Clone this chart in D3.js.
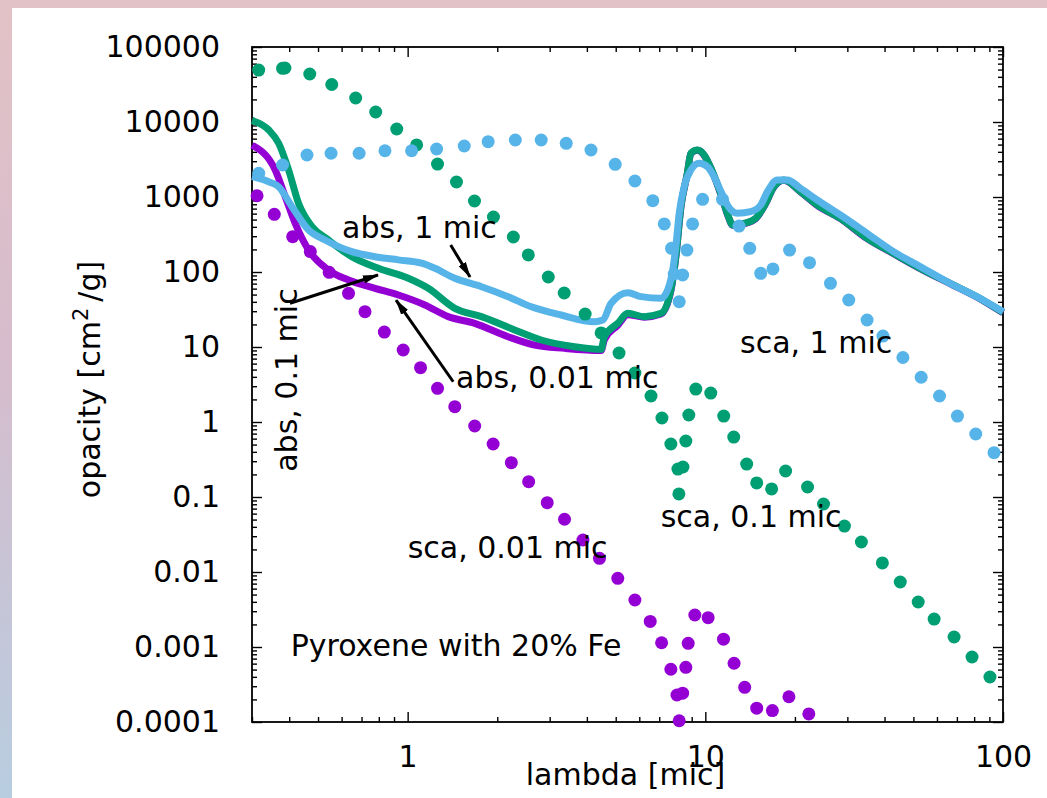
<!DOCTYPE html>
<html>
<head>
<meta charset="utf-8">
<script src="https://cdn.jsdelivr.net/npm/d3@7"></script>
<style>
  html, body { margin: 0; padding: 0; overflow: hidden; }
  svg { display: block; font-family: "DejaVu Sans", sans-serif; }
</style>
</head>
<body>
<svg id="chart" width="1047" height="798"></svg>
<script>
// Absorption opacity [cm^2/g] versus wavelength [micron], pairs of [lambda, kappa]
const absSmall = [
  [0.30, 4900], [0.359, 2290], [0.388, 1010], [0.419, 446], [0.465, 196], [0.542, 106],
  [0.633, 78], [0.777, 60.6], [0.931, 49.3], [1.143, 36.3], [1.369, 25.4], [1.68, 20.7],
  [2.175, 13.7], [2.67, 10.6], [3.365, 9.6], [4.467, 9.0], [4.58, 12.5], [5.08, 19.5],
  [5.49, 27], [6.24, 25], [7.10, 27.5], [7.66, 56], [7.96, 158], [8.28, 735], [8.70, 2050],
  [8.94, 3800], [9.42, 4200], [9.91, 3600], [10.51, 2270], [11.36, 1000], [11.96, 540],
  [12.34, 420], [13.49, 440], [14.76, 515], [15.95, 815], [17.0, 1360], [18.37, 1670],
  [20.89, 1170], [23.76, 775], [28.44, 515], [34.95, 278], [42.9, 175], [52.7, 111],
  [66.4, 70], [81.6, 46.5], [100, 28.5]
];
const absMedium = [
  [0.30, 10500], [0.3415, 7820], [0.3687, 5200], [0.3982, 2290], [0.430, 824], [0.477, 402],
  [0.542, 267], [0.649, 160], [0.798, 112], [1.005, 82.4], [1.173, 60.6], [1.44, 32.8],
  [1.77, 25.4], [2.288, 16.9], [2.81, 12.4], [3.635, 10.1], [4.467, 9.3], [4.58, 13.7],
  [5.08, 20.7], [5.49, 28.1], [6.24, 25.4], [7.10, 28.1], [7.66, 57.5], [7.96, 160],
  [8.28, 743], [8.70, 2070], [8.94, 3830], [9.42, 4230], [9.91, 3630], [10.51, 2290],
  [11.36, 1010], [11.96, 546], [12.34, 424], [13.49, 446], [14.76, 520], [15.95, 824],
  [17.0, 1370], [18.37, 1690], [20.89, 1180], [23.76, 782], [28.44, 520], [34.95, 281],
  [42.9, 177], [52.7, 112], [66.4, 70.6], [81.6, 46.9], [100, 28.8]
];
const absLarge = [
  [0.30, 1866], [0.3415, 1600], [0.3687, 1370], [0.4087, 743], [0.465, 363], [0.528, 267],
  [0.649, 187], [0.777, 160], [0.931, 145], [1.114, 131], [1.235, 112], [1.44, 82.4],
  [1.77, 63.7], [2.175, 46.9], [2.603, 34.4], [3.281, 26.7], [4.242, 21.7], [4.525, 22.9],
  [4.825, 38.3], [5.49, 53], [6.08, 46.9], [7.10, 44.6], [7.47, 57.5], [7.77, 106],
  [7.96, 217], [8.17, 607], [8.49, 1370], [8.94, 2290], [9.53, 2810], [10.17, 2535],
  [10.70, 1866], [11.36, 1120], [11.96, 743], [12.82, 607], [14.2, 637], [15.35, 782],
  [16.16, 1178], [17.45, 1690], [18.86, 1690], [20.89, 1306], [23.76, 912], [28.44, 575],
  [34.95, 328], [42.9, 187], [52.7, 118], [66.4, 70.6], [81.6, 46.9], [100, 29.6]
];

// Scattering opacity [cm^2/g], sampled points
const scaSmall = [
  [0.312, 1040], [0.3565, 587], [0.411, 296], [0.471, 187], [0.545, 99.1], [0.633, 52],
  [0.719, 29.6], [0.835, 15.8], [0.966, 9.12], [1.105, 5.30], [1.26, 2.81], [1.44, 1.6],
  [1.68, 0.885], [1.937, 0.509], [2.23, 0.287], [2.55, 0.16], [2.944, 0.084], [3.365, 0.0505],
  [3.88, 0.0267], [4.41, 0.0152], [5.08, 0.00824], [5.80, 0.00423], [6.53, 0.00219],
  [7.13, 0.00114], [7.66, 0.000505], [8.03, 0.000229], [8.17, 0.000104], [8.39, 0.000242],
  [8.60, 0.000536], [8.76, 0.00112], [9.22, 0.00267], [10.22, 0.00246], [11.51, 0.00127],
  [12.49, 0.000607], [13.56, 0.00029], [14.88, 0.000153], [16.80, 0.000142],
  [19.09, 0.000217], [22.27, 0.000128]
];
const scaMedium = [
  [0.316, 49300], [0.380, 52000], [0.387, 52500], [0.469, 43650], [0.556, 31600],
  [0.669, 20900], [0.781, 13600], [0.919, 8070], [1.072, 4940], [1.26, 2750], [1.459, 1585],
  [1.677, 885], [1.942, 541], [2.265, 293], [2.543, 169], [2.968, 85.8], [3.357, 52.5],
  [3.947, 27.5], [4.467, 15.4], [5.13, 8.32], [5.80, 4.5], [6.57, 2.22], [7.15, 1.13],
  [7.66, 0.509], [8.09, 0.236], [8.15, 0.11], [8.41, 0.251], [8.60, 0.558], [8.80, 1.24],
  [9.29, 2.75], [10.43, 2.43], [11.53, 1.2], [12.46, 0.63], [13.77, 0.275], [14.88, 0.154],
  [16.70, 0.128], [18.61, 0.222], [22.05, 0.136], [24.95, 0.0807], [29.33, 0.041],
  [33.44, 0.0251], [39.33, 0.0132], [45.17, 0.00736], [51.9, 0.00398], [58.7, 0.00236],
  [68.5, 0.00136], [78.7, 0.000736], [90.4, 0.000398]
];
const scaLarge = [
  [0.316, 2070], [0.380, 2670], [0.459, 3630], [0.553, 3830], [0.687, 3830], [0.839, 4140],
  [1.031, 4140], [1.251, 4365], [1.549, 4790], [1.864, 5460], [2.30, 5750], [2.81, 5750],
  [3.41, 5200], [4.13, 4230], [4.98, 2730], [5.80, 1635], [6.66, 893], [7.28, 437],
  [7.70, 207], [7.86, 94], [8.17, 40.2], [8.39, 91.2], [8.67, 196], [9.06, 437], [9.79, 931],
  [11.42, 931], [12.98, 410], [14.10, 207], [15.35, 96.1], [16.87, 110], [19.19, 196],
  [22.39, 133], [26.33, 70.6], [30.33, 42.3], [34.95, 22.9], [39.5, 14], [46.1, 7.24],
  [53.1, 3.95], [61.2, 2.22], [70.3, 1.2], [81.0, 0.692], [93.3, 0.39]
];

// Axis ticks and labels
const xMajorTicks = [1, 10, 100];
const xTickLabels = ["1", "10", "100"];
const yMajorTicks = [1e-4, 1e-3, 1e-2, 1e-1, 1, 10, 100, 1000, 10000, 100000];
const yTickLabels = ["0.0001", "0.001", "0.01", "0.1", "1", "10", "100", "1000", "10000", "100000"];

// Text labels and arrows, placed in data coordinates
const labels = [
  { text: "abs, 1 mic", at: [0.602, 284] },
  { text: "abs, 0.01 mic", at: [1.454, 2.81] },
  { text: "sca, 1 mic", at: [13.08, 8.32] },
  { text: "sca, 0.1 mic", at: [7.08, 0.0402] },
  { text: "sca, 0.01 mic", at: [1.0, 0.0155] },
  { text: "Pyroxene with 20% Fe", at: [0.4046, 0.000759] }
];
const verticalLabels = [{ text: "abs, 0.1 mic", at: [0.425, 0.217] }];
const arrows = [
  { from: [1.395, 229], to: [1.62, 85.8] },
  { from: [0.4025, 38.3], to: [0.795, 91.2] },
  { from: [1.423, 3.44], to: [0.914, 42.3] }
];

const colors = { small: "#9400d3", medium: "#009e73", large: "#56b4e9" };

const W = 1047, H = 798;
const plot = { left: 252, right: 1003, top: 47, bottom: 722 };
const svg = d3.select("#chart");

// Background: soft gradient frame with a white panel
const defs = svg.append("defs");
const grad = defs.append("linearGradient").attr("id", "bg")
  .attr("x1", 0).attr("y1", 0).attr("x2", 0).attr("y2", 1);
grad.append("stop").attr("offset", "0%").attr("stop-color", "#e2c2c6");
grad.append("stop").attr("offset", "45%").attr("stop-color", "#d6bccc");
grad.append("stop").attr("offset", "100%").attr("stop-color", "#b8cde0");
svg.append("rect").attr("width", W).attr("height", H).attr("fill", "url(#bg)");
svg.append("rect").attr("x", 12).attr("y", 8).attr("width", W - 12).attr("height", H - 8).attr("fill", "#ffffff");

defs.append("marker").attr("id", "head")
  .attr("viewBox", "0 0 16 10").attr("refX", 15).attr("refY", 5)
  .attr("markerUnits", "userSpaceOnUse").attr("markerWidth", 16).attr("markerHeight", 10)
  .attr("orient", "auto")
  .append("path").attr("d", "M0,0.8 L16,5 L0,9.2 Z").attr("fill", "#000");

const x = d3.scaleLog().domain([0.3, 100]).range([plot.left, plot.right]);
const y = d3.scaleLog().domain([1e-4, 1e5]).range([plot.bottom, plot.top]);

const minorOf = (lo, hi) => {
  const out = [];
  for (let e = Math.floor(Math.log10(lo)); e <= Math.ceil(Math.log10(hi)); e++) {
    for (let m = 2; m <= 9; m++) {
      const v = m * Math.pow(10, e);
      if (v >= lo * 0.999 && v <= hi * 1.001) out.push(v);
    }
  }
  return out;
};
const xMinor = minorOf(0.3, 100);
const yMinor = minorOf(1e-4, 1e5);

const axisStyle = g => {
  g.select(".domain").remove();
  g.selectAll("line").attr("stroke", "#000").attr("stroke-width", 1.4);
  g.selectAll("text").attr("fill", "#000").attr("font-size", 30)
    .attr("font-family", "DejaVu Sans, sans-serif");
};

// Major and minor ticks on all four sides, pointing inward
const fmtX = d => xTickLabels[xMajorTicks.indexOf(d)];
const fmtY = d => yTickLabels[yMajorTicks.findIndex(v => Math.abs(v - d) / v < 1e-6)];

svg.append("g").attr("transform", `translate(0,${plot.bottom})`)
  .call(d3.axisBottom(x).tickValues(xMajorTicks).tickFormat(fmtX).tickSizeInner(-10).tickSizeOuter(0).tickPadding(24))
  .call(axisStyle);
svg.append("g").attr("transform", `translate(0,${plot.bottom})`)
  .call(d3.axisBottom(x).tickValues(xMinor).tickFormat("").tickSizeInner(-5).tickSizeOuter(0))
  .call(axisStyle);
svg.append("g").attr("transform", `translate(0,${plot.top})`)
  .call(d3.axisTop(x).tickValues(xMajorTicks).tickFormat("").tickSizeInner(-10).tickSizeOuter(0))
  .call(axisStyle);
svg.append("g").attr("transform", `translate(0,${plot.top})`)
  .call(d3.axisTop(x).tickValues(xMinor).tickFormat("").tickSizeInner(-5).tickSizeOuter(0))
  .call(axisStyle);

svg.append("g").attr("transform", `translate(${plot.left},0)`)
  .call(d3.axisLeft(y).tickValues(yMajorTicks).tickFormat(fmtY).tickSizeInner(-10).tickSizeOuter(0).tickPadding(32))
  .call(axisStyle);
svg.append("g").attr("transform", `translate(${plot.left},0)`)
  .call(d3.axisLeft(y).tickValues(yMinor).tickFormat("").tickSizeInner(-5).tickSizeOuter(0))
  .call(axisStyle);
svg.append("g").attr("transform", `translate(${plot.right},0)`)
  .call(d3.axisRight(y).tickValues(yMajorTicks).tickFormat("").tickSizeInner(-10).tickSizeOuter(0))
  .call(axisStyle);
svg.append("g").attr("transform", `translate(${plot.right},0)`)
  .call(d3.axisRight(y).tickValues(yMinor).tickFormat("").tickSizeInner(-5).tickSizeOuter(0))
  .call(axisStyle);

svg.append("rect")
  .attr("x", plot.left).attr("y", plot.top)
  .attr("width", plot.right - plot.left).attr("height", plot.bottom - plot.top)
  .attr("fill", "none").attr("stroke", "#000").attr("stroke-width", 1.8);

// Absorption curves
const line = d3.line().x(d => x(d[0])).y(d => y(d[1])).curve(d3.curveMonotoneX);
[[absSmall, colors.small], [absMedium, colors.medium], [absLarge, colors.large]].forEach(([data, c]) => {
  svg.append("path").datum(data).attr("d", line)
    .attr("fill", "none").attr("stroke", c).attr("stroke-width", 7)
    .attr("stroke-linejoin", "round");
});

// Scattering points
[[scaSmall, colors.small], [scaMedium, colors.medium], [scaLarge, colors.large]].forEach(([data, c]) => {
  svg.append("g").selectAll("circle").data(data).join("circle")
    .attr("cx", d => x(d[0])).attr("cy", d => y(d[1])).attr("r", 6.5)
    .attr("fill", c);
});

// Annotations
svg.append("g").selectAll("line").data(arrows).join("line")
  .attr("x1", d => x(d.from[0])).attr("y1", d => y(d.from[1]))
  .attr("x2", d => x(d.to[0])).attr("y2", d => y(d.to[1]))
  .attr("stroke", "#000").attr("stroke-width", 3).attr("marker-end", "url(#head)");

svg.append("g").selectAll("text").data(labels).join("text")
  .attr("x", d => x(d.at[0])).attr("y", d => y(d.at[1]))
  .attr("font-size", 30).attr("fill", "#000").text(d => d.text);

svg.append("g").selectAll("text").data(verticalLabels).join("text")
  .attr("transform", d => `translate(${x(d.at[0])},${y(d.at[1])}) rotate(-90)`)
  .attr("font-size", 30).attr("fill", "#000").text(d => d.text);

// Axis titles
svg.append("text")
  .attr("x", (plot.left + plot.right) / 2 - 2).attr("y", 785)
  .attr("text-anchor", "middle").attr("font-size", 30).attr("fill", "#000")
  .text("lambda [mic]");

const yTitle = svg.append("text")
  .attr("transform", `translate(100,${(plot.top + plot.bottom) / 2 - 5}) rotate(-90)`)
  .attr("text-anchor", "middle").attr("font-size", 30).attr("fill", "#000");
yTitle.append("tspan").text("opacity [cm");
yTitle.append("tspan").attr("dy", -12).attr("font-size", 21).text("2");
yTitle.append("tspan").attr("dy", 12).attr("dx", 6).text("/g]");
</script>
</body>
</html>
